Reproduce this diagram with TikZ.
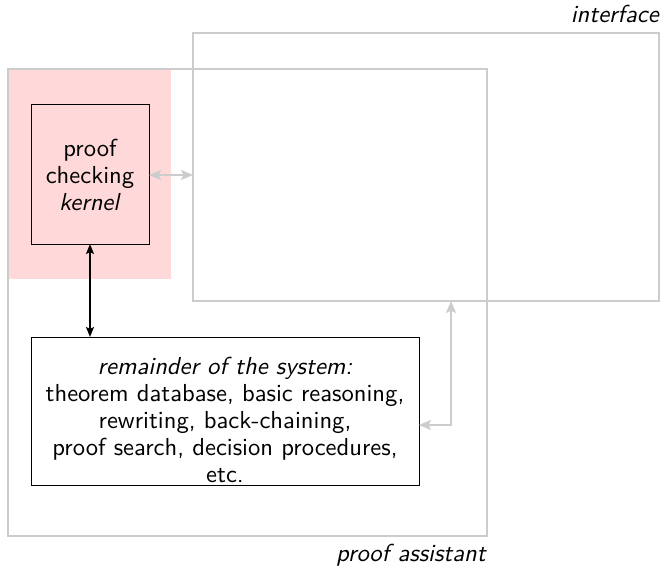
\documentclass[tikz,border=0pt]{standalone}
\usepackage{fontspec}
\setsansfont{lmsans10-regular.otf}[ItalicFont=lmsans10-oblique.otf,BoldFont=lmsans10-bold.otf]
\usetikzlibrary{arrows.meta}
\begin{document}
\begin{tikzpicture}[x=1pt,y=-1pt,
  every node/.style={font=\sffamily\fontsize{24.6}{26.8}\selectfont},
  lab/.style={font=\sffamily\itshape\fontsize{24.6}{26.8}\selectfont},
  frame/.style={draw=black!20,line width=2.2pt},
  box/.style={draw=black,line width=0.9pt,fill=none},
  link/.style={line width=1.5pt,{Stealth[length=10pt,width=8pt,inset=2pt]}-{Stealth[length=10pt,width=8pt,inset=2pt]}},
  glink/.style={draw=black!20,line width=2.2pt,{Stealth[length=12pt,width=10pt,inset=2.5pt]}-{Stealth[length=12pt,width=10pt,inset=2.5pt]}}]
\useasboundingbox (0,0) rectangle (664,568);
% trusted area behind the kernel
\fill[red!15] (8,69) rectangle (171,279);
% outer frames
\draw[frame] (8,69) rectangle (487,536);
\draw[frame] (193,33) rectangle (659,301);
\node[anchor=base east,lab,inner sep=0pt] (ilab) at (659,22) {interface};
\node[anchor=base east,lab,inner sep=0pt] (plab) at (486,561) {proof assistant};
% kernel and remainder
\draw[box] (31,104) rectangle (149,244);
\node[align=center] (kern) at (90,175) {proof\\checking\\\textit{kernel}};
\coordinate (kt) at (90,244);
\coordinate (kr) at (149,175);
\draw[box] (31,337) rectangle (419,485);
\node[align=center] (rem) at (225,420) {\textit{remainder of the system:}\\theorem database, basic reasoning,\\rewriting, back-chaining,\\proof search, decision procedures,\\etc.};
\coordinate (rt) at (90,337);
\coordinate (rr) at (419,425);
\coordinate (ib) at (451,301);
\coordinate (il) at (193,175);
% connectors
\draw[link] (kt) -- (rt);
\draw[glink] (kr) -- (il);
\draw[glink] (rr) -| (ib);
\end{tikzpicture}
\end{document}
